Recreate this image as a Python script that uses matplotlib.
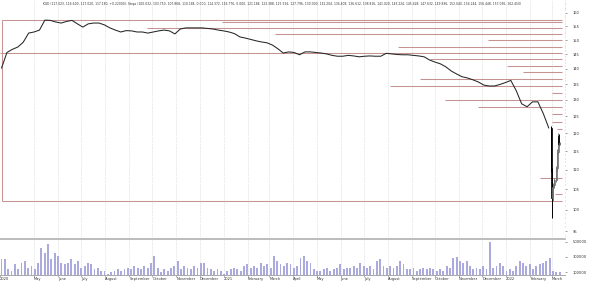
import matplotlib
matplotlib.use('Agg')
import matplotlib.pyplot as plt
import matplotlib.dates as mdates
import matplotlib.ticker as mticker
import pandas as pd
import numpy as np

# ---------------- data ----------------
weekly_start = '2020-03-20'
weekly_close = [
    140.3, 145.6, 146.7, 147.5, 149.2, 152.5, 152.9, 153.6, 157.3, 157.2,
    156.6, 156.2, 156.8, 157.2, 155.9, 154.7, 155.9, 156.2, 156.2, 155.5,
    154.4, 153.6, 152.9, 153.4, 153.3, 152.9, 152.9, 152.5, 152.9, 153.3,
    153.6, 153.3, 152.2, 154.0, 154.4, 154.4, 154.4, 154.4, 154.2, 154.0,
    153.6, 153.3, 152.9, 152.3, 151.1, 150.7, 150.2, 149.7, 149.3, 149.0,
    148.2, 146.9, 145.4, 145.8, 145.6, 144.8, 145.8, 145.8, 145.6, 145.4,
    145.1, 144.6, 144.3, 144.3, 144.6, 144.4, 144.1, 144.3, 144.4, 144.3,
    144.3, 145.3, 145.1, 144.9, 144.8, 144.8, 144.6, 144.4, 144.1, 143.0,
    142.3, 141.7, 140.7, 139.3, 138.3, 137.4, 137.0, 136.4, 135.7, 134.7,
    134.4, 134.4, 134.9, 135.5, 136.2, 132.9, 128.8, 127.9, 129.4, 129.4,
    125.8, 121.6,
]

candle_dates = ['2022-02-28', '2022-03-01', '2022-03-02', '2022-03-03', '2022-03-04',
                '2022-03-07', '2022-03-08', '2022-03-09', '2022-03-10', '2022-03-11']
candle_open  = [121.6, 110.0, 102.8, 105.6, 106.2, 107.3, 110.4, 114.8, 119.4, 117.023]
candle_high  = [122.2, 110.6, 106.2, 106.6, 107.8, 111.0, 115.5, 120.2, 119.8, 117.5]
candle_low   = [109.5,  98.0, 102.2, 104.6, 105.4, 106.8, 109.8, 114.2, 116.4, 116.6]
candle_close = [110.0, 102.8, 105.6, 106.2, 107.3, 110.4, 114.8, 119.4, 117.0, 117.18]

volume_start, volume_end = '2020-03-20', '2022-03-11'
volume_k = [
    267, 276, 138, 116, 203, 138, 224, 246, 160, 181, 138, 224, 418, 353, 473, 267,
    353, 310, 224, 203, 224, 267, 203, 246, 160, 181, 224, 203, 138, 160, 116, 116,
    74, 95, 116, 138, 116, 138, 160, 138, 181, 160, 138, 181, 160, 224, 310, 160,
    95, 138, 116, 160, 181, 246, 138, 181, 160, 138, 181, 160, 224, 224, 160, 138,
    116, 138, 116, 74, 116, 138, 160, 138, 116, 181, 203, 160, 181, 160, 224, 181,
    203, 160, 310, 246, 203, 181, 224,
    203, 160, 181, 289, 310, 246, 224, 138, 116, 116, 138, 160, 116, 138, 160, 203,
    138, 160, 160, 181, 160, 224, 181, 160, 181, 138, 246, 267, 181, 160, 181, 160,
    181, 246, 203, 138, 138, 160, 116, 138, 160, 138, 160, 138, 116, 138, 116, 181,
    160, 289, 301, 246, 224, 246, 181, 138, 160, 138, 181, 138, 504, 160, 181, 224,
    181, 116, 138, 116, 181, 246, 224, 181, 203, 138, 181, 203, 224, 246, 289, 116,
    95, 95,
]

stop_levels = [121.184, 123.388, 125.592, 127.796, 130.000, 132.204, 134.408, 136.612,
               138.816, 141.020, 143.224, 145.428, 147.632, 149.836, 152.040, 154.244,
               156.448, 107.868, 103.750]
stop_starts = ['2022-03-08', '2022-03-01', '2022-03-01', '2021-11-26', '2021-10-14',
               '2022-03-01', '2021-08-04', '2021-09-12', '2022-01-23', '2022-01-02',
               '2021-09-25', '2020-03-18', '2021-08-14', '2021-12-08', '2021-03-08',
               '2020-09-24', '2020-12-30', '2022-02-14', '2022-03-05']
box_top, box_bottom, box_start = 157.4, 102.2, '2020-03-20'
lines_end = '2022-03-14'

price_ticks = [95, 100, 105, 110, 115, 120, 125, 130, 135, 140, 145, 150, 155, 160]
volume_ticks = [100000, 300000, 500000]

header = ("KGD (117.023, 116.600, 117.020, 117.180, +0.22000), Stops (100.032, 103.750, "
          "107.868, 110.184, 0.000, 114.372, 116.776, 0.000, 121.184, 123.388, 125.592, "
          "127.796, 130.000, 132.204, 134.408, 136.612, 138.816, 141.020, 143.224, 145.428, "
          "147.632, 149.836, 152.040, 154.244, 156.448, 157.036, 162.450)")

# ---------------- figure ----------------
W, H = 590, 282
fig = plt.figure(figsize=(W / 100, H / 100), dpi=100)
ax = fig.add_axes([0, 1 - 238 / H, 565 / W, 238 / H])
axv = fig.add_axes([0, 1 - 275 / H, 565 / W, (275 - 239) / H], sharex=ax)

d2n = lambda s: mdates.date2num(pd.Timestamp(s))
xmin, xmax = d2n('2020-03-18'), d2n('2022-03-18')
xend = d2n(lines_end)

red = '#c79292'
# stop lines and box
for lvl, st in zip(stop_levels, stop_starts):
    ax.hlines(lvl, d2n(st), xend, color=red, lw=0.75, zorder=1)
ax.hlines([box_top, box_bottom], d2n(box_start), xend, color=red, lw=0.75, zorder=1)
ax.vlines(d2n(box_start), box_bottom, box_top, color=red, lw=0.75, zorder=1)

# price line
wdates = pd.date_range(weekly_start, periods=len(weekly_close), freq='7D')
ax.plot(mdates.date2num(wdates), weekly_close, color='#262626', lw=0.75, zorder=3)

# candles
cd = np.array([d2n(d) for d in candle_dates])
o = np.array(candle_open); h = np.array(candle_high)
l = np.array(candle_low); c = np.array(candle_close)
up = c >= o
ax.vlines(cd, l, h, color=np.where(up, '#808080', '#000000'), lw=0.7, zorder=3)
ax.bar(cd, np.abs(c - o), bottom=np.minimum(o, c), width=1.3,
       color=np.where(up, '#a8a8a8', '#000000'),
       edgecolor=np.where(up, '#6a6a6a', '#000000'), lw=0.5, zorder=4)

ax.set_yscale('log')
ax.set_ylim(93.48, 165.04)
ax.set_xlim(xmin, xmax)
ax.yaxis.tick_right()
ax.set_yticks(price_ticks)
ax.set_yticklabels([str(t) for t in price_ticks])
ax.set_yticks(list(range(94, 166)), minor=True)
ax.yaxis.set_minor_formatter(mticker.NullFormatter())
ax.tick_params(axis='y', which='major', labelsize=2.6, length=1.5, width=0.4,
               pad=4, colors='#555555', labelcolor='#333333')
ax.tick_params(axis='y', which='minor', length=1.0, width=0.3, colors='#888888')
for s in ax.spines.values():
    s.set_visible(False)

# volume
vdates = pd.date_range(volume_start, volume_end, periods=len(volume_k))
axv.bar(mdates.date2num(vdates), np.array(volume_k) * 1000, width=2.4,
        color='#aaaade', lw=0, zorder=2)
axv.set_ylim(61000, 539000)
axv.yaxis.tick_right()
axv.set_yticks(volume_ticks)
axv.set_yticklabels([str(t) for t in volume_ticks])
axv.tick_params(axis='y', labelsize=2.6, length=1.5, width=0.4, pad=4,
                colors='#555555', labelcolor='#333333')
for k, s in axv.spines.items():
    s.set_visible(k in ('top', 'bottom'))
axv.spines['top'].set_color('#b0b0b0'); axv.spines['top'].set_linewidth(1.2)
axv.spines['bottom'].set_color('#999999'); axv.spines['bottom'].set_linewidth(0.6)

# x ticks: month starts
months = pd.date_range('2020-05-01', '2022-03-01', freq='MS')
tick_pos = [xmin] + list(mdates.date2num(months))
tick_lab = ['2020'] + [str(m.year) if m.month == 1 else m.strftime('%B') for m in months]
axv.set_xticks(tick_pos)
axv.set_xticklabels(tick_lab)
plt.setp(axv.get_xticklabels(), ha='left')
axv.tick_params(axis='x', labelsize=2.6, length=1.2, width=0.4, pad=0.3,
                colors='#777777', labelcolor='#333333')
ax.tick_params(axis='x', which='both', bottom=False, labelbottom=False)

for a in (ax, axv):
    for xp in tick_pos[1:]:
        a.axvline(xp, color='#cfcfcf', lw=0.5, ls=(0, (1, 1.5)), zorder=0)

fig.text(43 / W, 1 - 4 / H, header, fontsize=2.2, color='#333333',
         ha='left', va='center')

fig.savefig('out.png', dpi=100)
